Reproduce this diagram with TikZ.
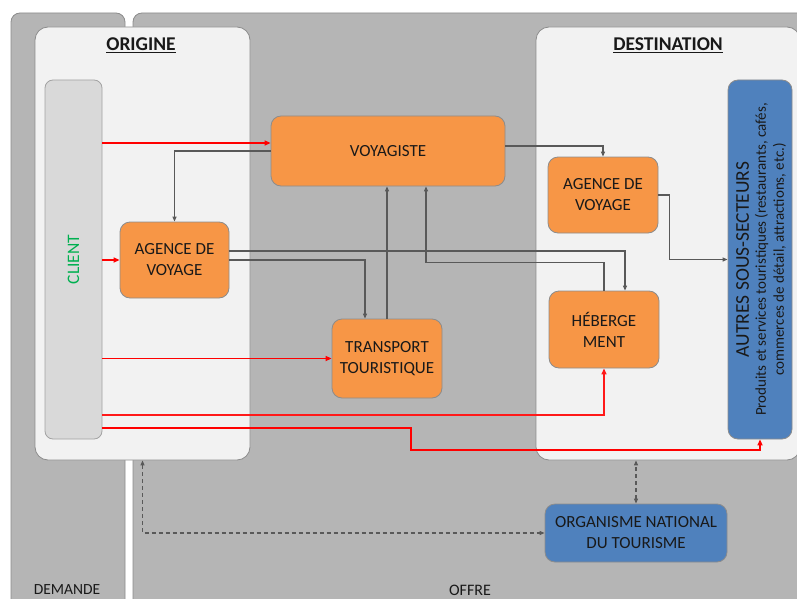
\documentclass[tikz,border=0pt]{standalone}
\usepackage{fontspec}
\setmainfont{Carlito}
\usetikzlibrary{arrows.meta}

\definecolor{zonegray}{RGB}{181,181,181}
\definecolor{zoneline}{RGB}{140,140,140}
\definecolor{panellight}{RGB}{242,242,242}
\definecolor{clientgray}{RGB}{217,217,217}
\definecolor{boxorange}{RGB}{247,150,70}
\definecolor{boxblue}{RGB}{79,129,189}
\definecolor{linkgray}{RGB}{89,89,89}
\definecolor{clientgreen}{RGB}{0,176,80}

\begin{document}
\begin{tikzpicture}[x=1pt,y=-1pt,>={Triangle[length=6pt,width=5pt]},
  zone/.style={draw=zoneline,fill=zonegray,line width=0.8pt,rounded corners=9},
  panel/.style={draw=zoneline,fill=panellight,line width=0.8pt,rounded corners=13},
  box/.style={draw=zoneline,fill=boxorange,line width=0.8pt,rounded corners=10,align=center,
    text=black!90,font=\fontsize{17}{21}\selectfont,inner sep=0pt},
  bluebox/.style={box,fill=boxblue},
  redlink/.style={->,draw=red,line width=1.7pt},
  thinred/.style={->,draw=red!90!white,line width=1.3pt},
  graylink/.style={->,draw=linkgray,line width=1.1pt,>={Triangle[length=5pt,width=4pt]}},
  dashlink/.style={<->,draw=linkgray,line width=1.1pt,dash pattern=on 4pt off 3pt,>={Triangle[length=5pt,width=4pt]}},
  title/.style={font=\bfseries\fontsize{19.5}{22}\selectfont,text=black!90}]

		    \useasboundingbox (0,0) rectangle (797,599);

		    \draw[zone] (11,620) -- (11,13) -- (125,13) -- (125,620);
		    \draw[zone] (133,620) -- (133,13) -- (815,13) -- (815,620);

		    \node[panel,minimum width=215,minimum height=433] (origine) at (142.5,243.5) {};
		    \node[panel,minimum width=264,minimum height=433] (destination) at (668,243.5) {};

		    \node[title] (origtitle) at (141,45) {\underline{ORIGINE}};
		    \node[title] (desttitle) at (668,45) {\underline{DESTINATION}};

		    \node[draw=zoneline!80,fill=clientgray,line width=0.8pt,rounded corners=8,
		      minimum width=57,minimum height=359] (client) at (73.5,259.5) {};
		    \node[rotate=90,text=clientgreen,font=\fontsize{17.5}{19}\selectfont] (clienttext) at (client.center) {CLIENT};

		    \node[box,minimum width=234,minimum height=70] (voyagiste) at (388,151) {VOYAGISTE};
		    \node[box,minimum width=109,minimum height=76] (agenceorig) at (174.5,260) {AGENCE DE\\VOYAGE};
		    \node[box,minimum width=110,minimum height=79] (transport) at (387,358.5) {TRANSPORT\\TOURISTIQUE};
		    \node[box,minimum width=110,minimum height=76] (agencedest) at (603,195) {AGENCE DE\\VOYAGE};
		    \node[box,minimum width=110,minimum height=77] (hebergement) at (604,329.5) {HÉBERGE\\MENT};

		    \node[bluebox,minimum width=64,minimum height=359] (autres) at (760,259.5) {};
		    \node[rotate=90,align=center,text=black!90,font=\fontsize{15}{18}\selectfont] (autrestext)
		      at ([xshift=1pt]autres.center)
		      {\fontsize{19.5}{19}\selectfont AUTRES SOUS-SECTEURS\\[-1pt]
		       \fontsize{15}{18}\selectfont Produits et services touristiques (restaurants, cafés,\\
		       commerces de détail, attractions, etc.)};

		    \node[bluebox,minimum width=182,minimum height=58] (ont) at (636,533) {ORGANISME NATIONAL\\DU TOURISME};

		    \node[font=\fontsize{15.5}{17}\selectfont,text=black!90] (demande) at (67,590) {DEMANDE};
		    \node[font=\fontsize{16}{17}\selectfont,text=black!90] (offre) at (470,590) {OFFRE};

		    \draw[redlink] (client.east |- 0,143) -- (voyagiste.west |- 0,143);
		    \draw[redlink] (client.east |- agenceorig.west) -- (agenceorig.west);
		    \draw[redlink] (client.east |- transport.west) -- (transport.west);
		    \draw[thinred] (client.east |- 0,415) -| (hebergement.south);
		    \draw[redlink] (client.east |- 0,428) -| (411,450) -| (autres.south);

		    \draw[graylink] (voyagiste.west) -| (agenceorig.north);
		    \draw[graylink] (agenceorig.east |- 0,251) -| ([xshift=21pt]hebergement.north);
		    \draw[graylink] (agenceorig.east) -| ([xshift=-22pt]transport.north);
		    \draw[graylink] (transport.north) -- (transport.north |- voyagiste.south);
		    \draw[graylink] (hebergement.north) -- ++(0,-28) -| ([xshift=38pt]voyagiste.south);
		    \draw[graylink] ([yshift=5pt]voyagiste.east) -| (agencedest.north);
		    \draw[graylink] (agencedest.east) -- ++(11,0) |- (autres.west);

		    \draw[dashlink] (origine.south) |- (ont.west);
		    \draw[dashlink] (ont.north) -- (ont.north |- destination.south);

		    \end{tikzpicture}
\end{document}
